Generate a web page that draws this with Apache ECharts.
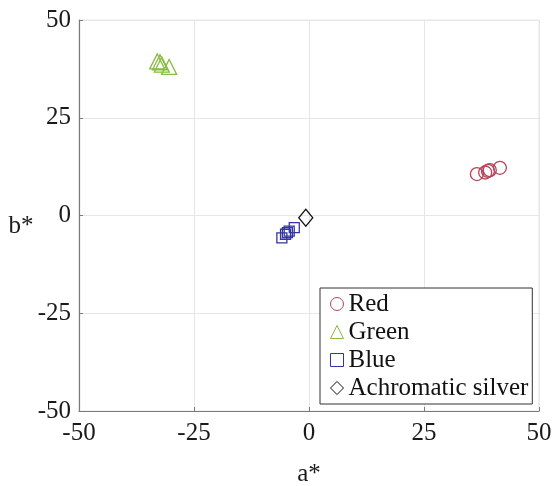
<!DOCTYPE html>
<html><head><meta charset="utf-8">
<script src="https://cdn.jsdelivr.net/npm/echarts@6/dist/echarts.min.js"></script>
<style>html,body{margin:0;padding:0;background:#fff}#c{width:553px;height:486px}</style>
</head><body><div id="c"></div>
<script>
const seriesNames = ['Red', 'Green', 'Blue', 'Achromatic silver'];
const redPoints = [[36.5,10.6],[38.3,11.0],[38.9,11.4],[39.3,11.6],[41.5,12.2]];
const greenPoints = [[-33.0,39.4],[-32.4,39.2],[-32.0,38.6],[-30.4,38.0]];
const bluePoints = [[-5.9,-5.7],[-5.1,-4.8],[-4.7,-4.4],[-4.3,-4.0],[-3.2,-3.1]];
const silverPoints = [[-0.7,-0.6]];
const xTicks = [-50, -25, 0, 25, 50];
const yTicks = [-50, -25, 0, 25, 50];
const xTitle = 'a*';
const yTitle = 'b*';

const font = 'Liberation Serif';
const colors = ['#b5455a', '#86bc3f', '#3434a2', '#111111'];
const symbols = ['circle', 'triangle', 'rect', 'diamond'];
const sizes = [13, 15, 10, [14, 17]];
const dataSets = [redPoints, greenPoints, bluePoints, silverPoints];

const chart = echarts.init(document.getElementById('c'), null, {renderer: 'canvas'});
const axisCommon = {
  min: -50, max: 50, interval: 25,
  axisLine: {show: true, onZero: false, lineStyle: {color: '#7a7a7a', width: 1.2}},
  axisTick: {show: true, inside: true, length: 4, lineStyle: {color: '#7a7a7a'}},
  splitLine: {show: true, lineStyle: {color: '#e6e6e6', width: 1}},
  axisLabel: {fontFamily: font, fontSize: 25, color: '#1a1a1a'}
};
chart.setOption({
  animation: false,
  backgroundColor: '#fff',
  grid: {left: 79, right: 14, top: 20, bottom: 75, containLabel: false, outerBoundsMode: 'none',
    show: true, borderColor: '#e6e6e6', borderWidth: 1},
  xAxis: Object.assign({}, axisCommon, {
    type: 'value',
    axisLabel: Object.assign({}, axisCommon.axisLabel, {margin: 10,
      formatter: v => xTicks.includes(v) ? String(v) : ''})
  }),
  yAxis: Object.assign({}, axisCommon, {
    type: 'value',
    axisLabel: Object.assign({}, axisCommon.axisLabel, {margin: 8,
      formatter: v => yTicks.includes(v) ? String(v) : ''})
  }),
  graphic: [
    {type: 'text', x: 309, y: 474, style: {text: xTitle, fontFamily: font, fontSize: 25,
      fill: '#1a1a1a', align: 'center', verticalAlign: 'middle'}},
    {type: 'text', x: 21, y: 226, style: {text: yTitle, fontFamily: font, fontSize: 25,
      fill: '#1a1a1a', align: 'center', verticalAlign: 'middle'}}
  ],
  legend: {
    show: true, orient: 'vertical', left: 320, top: 288,
    padding: [3, 4, 3, 10], itemGap: 2, itemWidth: 13, itemHeight: 13, itemTextGap: 8,
    borderColor: '#333', borderWidth: 1, backgroundColor: '#fff',
    textStyle: {fontFamily: font, fontSize: 25, color: '#111', lineHeight: 26},
    data: seriesNames.map((n, i) => ({name: n, icon: symbols[i],
      itemStyle: {color: 'transparent', borderColor: colors[i], borderWidth: 1}}))
  },
  series: dataSets.map((d, i) => ({
    type: 'scatter', name: seriesNames[i], data: d,
    symbol: symbols[i], symbolSize: sizes[i],
    itemStyle: {color: 'transparent', borderColor: colors[i], borderWidth: 1.3, opacity: 1}
  }))
});
</script></body></html>
